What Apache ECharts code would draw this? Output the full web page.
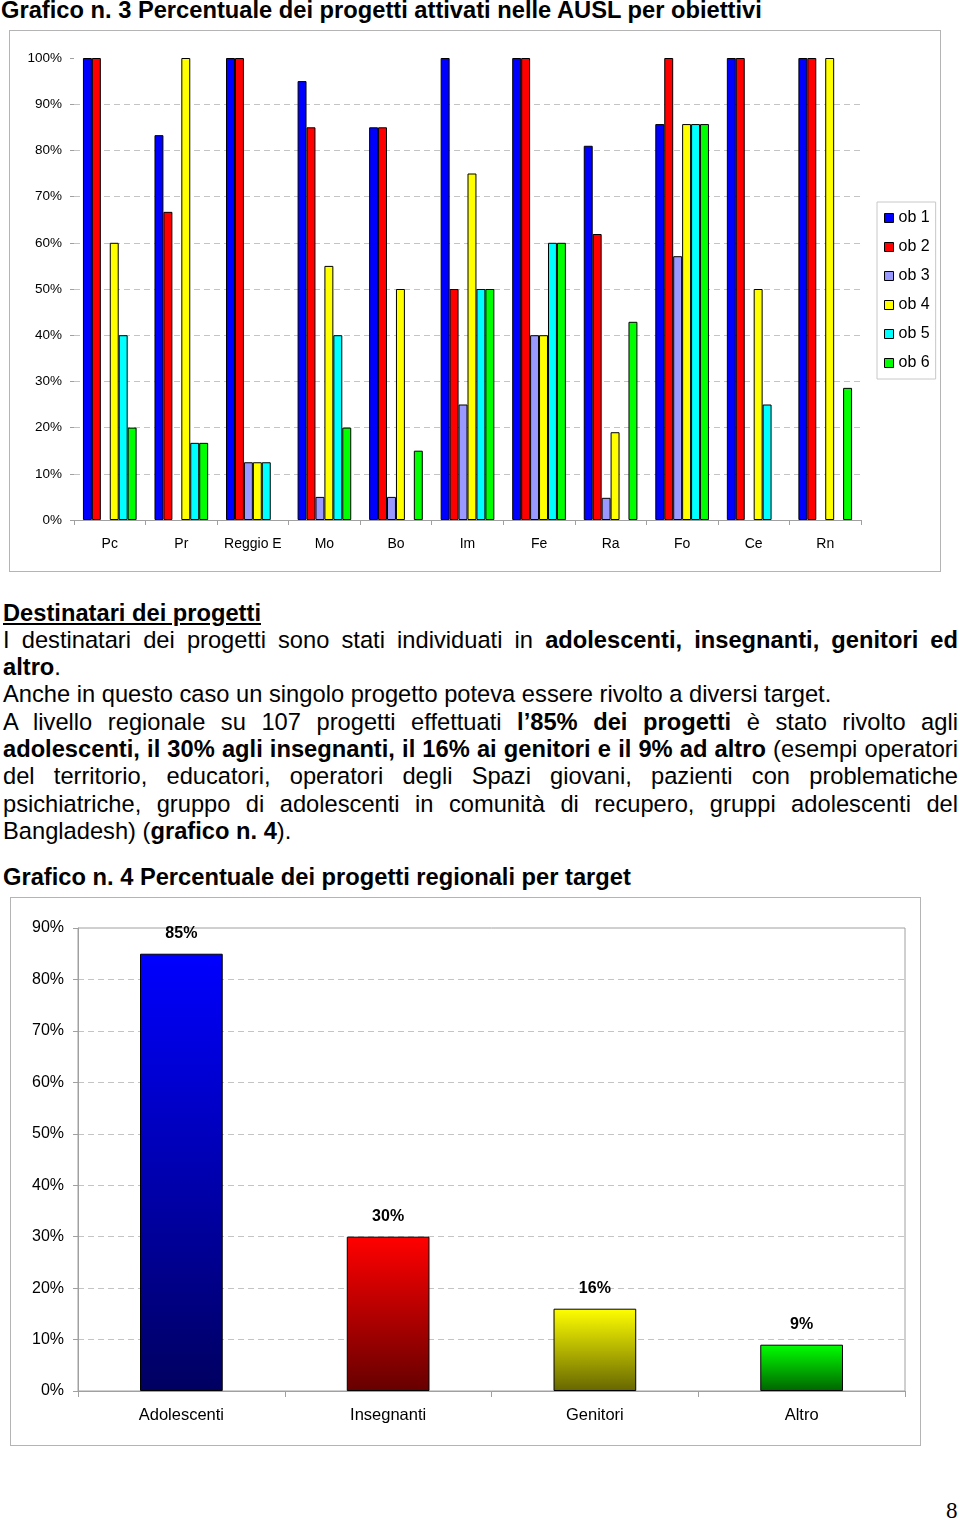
<!DOCTYPE html>
<html>
<head>
<meta charset="utf-8">
<script src="https://cdn.jsdelivr.net/npm/echarts@6/dist/echarts.min.js"></script>
<style>
body { margin: 0; width: 960px; height: 1520px; position: relative; background: #fff; color: #000;
       font-family: "Liberation Sans", Arial, sans-serif; overflow: hidden; }
.t { position: absolute; left: 3px; width: 955px; font-size: 23.7px; line-height: 27.3px; white-space: nowrap; }
.t div { white-space: nowrap; }
.j { text-align: justify; text-align-last: justify; }
.box { position: absolute; border: 1px solid #b4b4b4; box-sizing: border-box; }
.pg { position: absolute; left: 946px; top: 1498px; font-family: "Liberation Serif", serif; font-size: 23px; }
</style>
</head>
<body>
<div class="t" style="top:-3px;left:1px"><b>Grafico n. 3 Percentuale dei progetti attivati nelle AUSL per obiettivi</b></div>
<div id="c1" class="box" style="left:9px;top:30px;width:932px;height:542px"></div>

<div class="t" style="top:599.5px">
  <div><b><u>Destinatari dei progetti</u></b></div>
  <div class="j">I destinatari dei progetti sono stati individuati in <b>adolescenti, insegnanti, genitori ed</b></div>
  <div><b>altro</b>.</div>
  <div>Anche in questo caso un singolo progetto poteva essere rivolto a diversi target.</div>
  <div class="j">A livello regionale su 107 progetti effettuati <b>l’85% dei progetti</b> è stato rivolto agli</div>
  <div class="j"><b>adolescenti, il 30% agli insegnanti, il 16% ai genitori e il 9% ad altro</b> (esempi operatori</div>
  <div class="j">del territorio, educatori, operatori degli Spazi giovani, pazienti con problematiche</div>
  <div class="j">psichiatriche, gruppo di adolescenti in comunità di recupero, gruppi adolescenti del</div>
  <div>Bangladesh) (<b>grafico n. 4</b>).</div>
</div>

<div class="t" style="top:864px"><b>Grafico n. 4 Percentuale dei progetti regionali per target</b></div>
<div id="c2" class="box" style="left:10px;top:897px;width:911px;height:549px"></div>
<div class="pg">8</div>

<script>
// grafico 3: percentuale progetti per obiettivo, per AUSL
var areas = ['Pc', 'Pr', 'Reggio E', 'Mo', 'Bo', 'Im', 'Fe', 'Ra', 'Fo', 'Ce', 'Rn'];
var obNames = ['ob 1', 'ob 2', 'ob 3', 'ob 4', 'ob 5', 'ob 6'];
var ob1 = [100, 83.3, 100, 95, 85, 100, 100, 81, 85.7, 100, 100];
var ob2 = [100, 66.7, 100, 85, 85, 50, 100, 61.9, 100, 100, 100];
var ob3 = [0, 0, 12.5, 5, 5, 25, 40, 4.8, 57.1, 0, 0];
var ob4 = [60, 100, 12.5, 55, 50, 75, 40, 19, 85.7, 50, 100];
var ob5 = [40, 16.7, 12.5, 40, 0, 50, 60, 0, 85.7, 25, 0];
var ob6 = [20, 16.7, 0, 20, 15, 50, 60, 42.9, 85.7, 0, 28.6];
var obColors = ['#0000ff', '#ff0000', '#9999ff', '#ffff00', '#00ffff', '#00ff00'];

// grafico 4: percentuale progetti regionali per target
var targets = ['Adolescenti', 'Insegnanti', 'Genitori', 'Altro'];
var targetPct = [85, 30, 16, 9];
var targetTop = ['#0000ff', '#ff0000', '#ffff00', '#00ff00'];
var targetBottom = ['#000060', '#660000', '#666600', '#006400'];

var font = '"Liberation Sans", Arial, sans-serif';
var dashed = { color: '#c4c4c4', type: [6, 4], width: 1 };

var chart1 = echarts.init(document.getElementById('c1'));
var obSeries = [ob1, ob2, ob3, ob4, ob5, ob6].map(function (vals, i) {
    return {
        name: obNames[i],
        type: 'bar',
        // a 0% bar is not drawn at all in the original (no border stub)
        data: vals.map(function (v) { return v === 0 ? '-' : v; }),
        barGap: 0,
        barCategoryGap: '25%',
        itemStyle: { color: obColors[i], borderColor: '#000', borderWidth: 1 }
    };
});
chart1.setOption({
    animation: false,
    textStyle: { fontFamily: font },
    grid: { left: 64, right: 79, top: 27, bottom: 51, outerBoundsMode: 'none' },
    legend: {
        orient: 'vertical',
        left: 867, top: 171,
        data: obNames,
        icon: 'rect',
        itemWidth: 9, itemHeight: 9,
        itemGap: 13,
        itemTextGap: 6,
        padding: [8, 6, 8, 7],
        borderColor: '#c8c8c8', borderWidth: 1,
        itemStyle: { borderColor: '#000', borderWidth: 1 },
        textStyle: { fontSize: 16, color: '#000', fontFamily: font }
    },
    xAxis: {
        type: 'category',
        data: areas,
        axisLine: { lineStyle: { color: '#a0a0a0' } },
        axisTick: { show: true, length: 5, lineStyle: { color: '#a0a0a0' } },
        axisLabel: { color: '#000', fontSize: 14, margin: 17, interval: 0, fontFamily: font }
    },
    yAxis: {
        type: 'value',
        min: 0, max: 100, interval: 10,
        axisLine: { show: false },
        axisTick: { show: true, length: 4, lineStyle: { color: '#a0a0a0' } },
        axisLabel: { color: '#000', fontSize: 13.5, margin: 12, formatter: '{value}%', fontFamily: font },
        splitLine: { show: true, showMinLine: false, showMaxLine: false, lineStyle: dashed }
    },
    series: obSeries
});

var chart2 = echarts.init(document.getElementById('c2'));
chart2.setOption({
    animation: false,
    textStyle: { fontFamily: font },
    grid: { left: 67, right: 15, top: 30, bottom: 54, show: true, borderColor: '#a0a0a0', borderWidth: 1,
            outerBoundsMode: 'none' },
    xAxis: {
        type: 'category',
        data: targets,
        axisLine: { lineStyle: { color: '#a0a0a0' } },
        axisTick: { show: true, length: 6, lineStyle: { color: '#a0a0a0' } },
        axisLabel: { color: '#000', fontSize: 16.5, margin: 16, fontFamily: font }
    },
    yAxis: {
        type: 'value',
        min: 0, max: 90, interval: 10,
        axisLine: { show: true, lineStyle: { color: '#a0a0a0' } },
        axisTick: { show: true, length: 5, lineStyle: { color: '#a0a0a0' } },
        axisLabel: { color: '#000', fontSize: 16, margin: 14, formatter: '{value}%', fontFamily: font },
        splitLine: { show: true, showMinLine: false, showMaxLine: false, lineStyle: dashed }
    },
    series: [{
        type: 'bar',
        barWidth: '40%',
        data: targetPct.map(function (v, i) {
            return {
                value: v,
                itemStyle: {
                    color: new echarts.graphic.LinearGradient(0, 0, 0, 1, [
                        { offset: 0, color: targetTop[i] },
                        { offset: 1, color: targetBottom[i] }
                    ]),
                    borderColor: '#000', borderWidth: 1
                }
            };
        }),
        label: {
            show: true, position: 'top', distance: 12,
            formatter: '{c}%', color: '#000', fontWeight: 'bold', fontSize: 16, fontFamily: font
        }
    }]
});
</script>
</body>
</html>
